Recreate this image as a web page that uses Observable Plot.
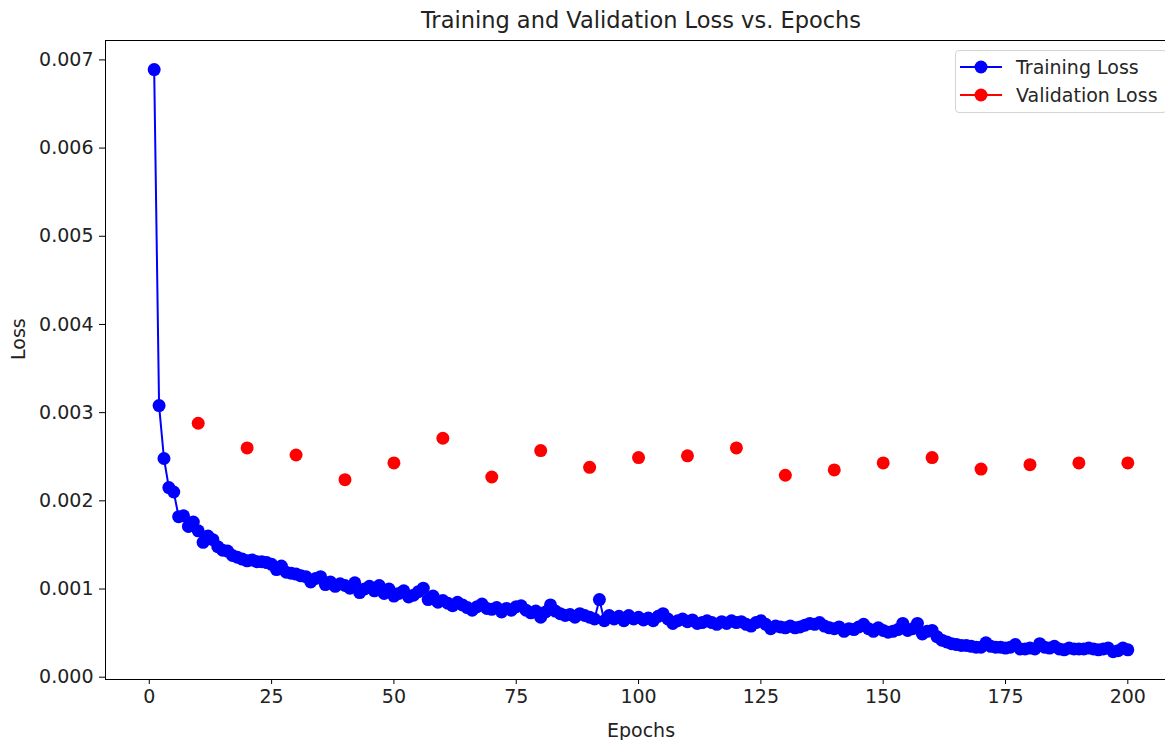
<!DOCTYPE html>
<html>
<head>
<meta charset="utf-8">
<script src="https://cdn.jsdelivr.net/npm/d3@7"></script>
<script src="https://cdn.jsdelivr.net/npm/@observablehq/plot@0.6"></script>
<style>
  html, body { margin: 0; padding: 0; background: #fff; overflow: hidden; }
  #wrap { position: relative; width: 1165px; height: 740px; overflow: hidden; font-family: "DejaVu Sans", sans-serif; }
  #legend { position: absolute; left: 955px; top: 50px; width: 212px; height: 63px; box-sizing: border-box;
    border: 1px solid #d5d5d5; border-radius: 4px; background: rgba(255,255,255,0.8); }
  .row { position: absolute; left: 4px; height: 20px; display: flex; align-items: center; font-size: 19px; color: #262626; white-space: nowrap; }
  .row svg { margin-right: 14px; }
</style>
</head>
<body>
<div id="wrap"></div>
<script>
const title = "Training and Validation Loss vs. Epochs";
const xLabel = "Epochs";
const yLabel = "Loss";
const seriesNames = ["Training Loss", "Validation Loss"];
const seriesColors = ["blue", "red"];

const xTicks = [0, 25, 50, 75, 100, 125, 150, 175, 200];
const yTicks = [0.000, 0.001, 0.002, 0.003, 0.004, 0.005, 0.006, 0.007];

const trainEpochs = d3.range(1, 201);
const trainLoss = [
  0.00689, 0.00308, 0.00248, 0.00215, 0.00210, 0.00182, 0.00183, 0.00171, 0.00176, 0.00166,
  0.00153, 0.00160, 0.00156, 0.00148, 0.00144, 0.00143, 0.00138, 0.00136, 0.00134, 0.00132,
  0.00133, 0.00131, 0.00131, 0.00130, 0.00128, 0.00122, 0.00126, 0.00119, 0.00118, 0.00117,
  0.00115, 0.00114, 0.00108, 0.00112, 0.00114, 0.00105, 0.00108, 0.00103, 0.00106, 0.00104,
  0.00101, 0.00107, 0.00096, 0.00100, 0.00103, 0.00098, 0.00104, 0.00095, 0.00100, 0.00092,
  0.00095, 0.00098, 0.00091, 0.00093, 0.00097, 0.00101, 0.00088, 0.00092, 0.00085, 0.00087,
  0.00084, 0.00081, 0.00085, 0.00082, 0.00079, 0.00076, 0.00080, 0.00083, 0.00078, 0.00077,
  0.00079, 0.00074, 0.00078, 0.00076, 0.00080, 0.00081, 0.00076, 0.00073, 0.00075, 0.00068,
  0.00074, 0.00082, 0.00075, 0.00072, 0.00070, 0.00071, 0.00068, 0.00072, 0.00070, 0.00068,
  0.00066, 0.00088, 0.00064, 0.00070, 0.00066, 0.00069, 0.00064, 0.00070, 0.00066, 0.00068,
  0.00065, 0.00067, 0.00064, 0.00069, 0.00072, 0.00066, 0.00061, 0.00064, 0.00066, 0.00063,
  0.00065, 0.00061, 0.00062, 0.00064, 0.00062, 0.00060, 0.00063, 0.00061, 0.00064, 0.00062,
  0.00063, 0.00060, 0.00058, 0.00062, 0.00064, 0.00060, 0.00055, 0.00058, 0.00057, 0.00056,
  0.00058, 0.00056, 0.00057, 0.00059, 0.00061, 0.00060, 0.00062, 0.00058, 0.00056, 0.00055,
  0.00057, 0.00052, 0.00055, 0.00054, 0.00057, 0.00060, 0.00055, 0.00052, 0.00056, 0.00053,
  0.00051, 0.00052, 0.00054, 0.00061, 0.00053, 0.00055, 0.00061, 0.00049, 0.00052, 0.00053,
  0.00046, 0.00042, 0.00040, 0.00038, 0.00037, 0.00036, 0.00036, 0.00035, 0.00034, 0.00034,
  0.00039, 0.00035, 0.00034, 0.00034, 0.00033, 0.00034, 0.00037, 0.00032, 0.00032, 0.00033,
  0.00032, 0.00038, 0.00034, 0.00033, 0.00035, 0.00032, 0.00031, 0.00033, 0.00032, 0.00032,
  0.00032, 0.00033, 0.00032, 0.00031, 0.00032, 0.00033, 0.00029, 0.00030, 0.00033, 0.00031
];

const valEpochs = [10, 20, 30, 40, 50, 60, 70, 80, 90, 100, 110, 120, 130, 140, 150, 160, 170, 180, 190, 200];
const valLoss = [
  0.00288, 0.00260, 0.00252, 0.00224, 0.00243, 0.00271, 0.00227, 0.00257, 0.00238, 0.00249,
  0.00251, 0.00260, 0.00229, 0.00235, 0.00243, 0.00249, 0.00236, 0.00241, 0.00243, 0.00243
];

const train = trainEpochs.map((e, i) => ({epoch: e, loss: trainLoss[i]}));
const val = valEpochs.map((e, i) => ({epoch: e, loss: valLoss[i]}));

const fontSize = 19;

const chart = Plot.plot({
  width: 1177,
  height: 740,
  marginLeft: 105,
  marginRight: 1,
  marginTop: 40,
  marginBottom: 61,
  style: { fontFamily: "DejaVu Sans, sans-serif", fontSize: fontSize + "px", color: "#000", background: "transparent", overflow: "visible", maxWidth: "none" },
  x: { domain: [-8.95, 209.95] },
  y: { domain: [-0.000026, 0.00722] },
  marks: [
    Plot.axisX({ ticks: xTicks, tickSize: 5, tickPadding: 5, label: null, fontSize: fontSize, stroke: "#000", fill: "#222" }),
    Plot.axisY({ ticks: yTicks, tickFormat: d3.format(".3f"), tickSize: 6, tickPadding: 6, label: null, fontSize: fontSize, stroke: "#000", fill: "#222" }),
    Plot.line(train, { x: "epoch", y: "loss", stroke: seriesColors[0], strokeWidth: 2 }),
    Plot.dot(train, { x: "epoch", y: "loss", r: 6.5, fill: seriesColors[0], stroke: null }),
    Plot.dot(val, { x: "epoch", y: "loss", r: 6.5, fill: seriesColors[1], stroke: null }),
    Plot.frame({ stroke: "#000", strokeWidth: 1 }),
    Plot.text([title], { frameAnchor: "top", lineAnchor: "middle", dy: -20, fontSize: 22.5, fill: "#222" }),
    Plot.text([xLabel], { frameAnchor: "bottom", lineAnchor: "middle", dy: 51, fontSize: fontSize, fill: "#222" }),
    Plot.text([yLabel], { frameAnchor: "left", lineAnchor: "middle", dx: -87, rotate: -90, fontSize: fontSize, fill: "#222" })
  ]
});

const wrap = document.getElementById("wrap");
chart.style.position = "absolute";
chart.style.left = "0px";
chart.style.top = "0px";
chart.style.maxWidth = "none";
wrap.appendChild(chart);

const legend = document.createElement("div");
legend.id = "legend";
seriesNames.forEach((name, i) => {
  const row = document.createElement("div");
  row.className = "row";
  row.style.top = (i === 0 ? 6 : 34) + "px";
  row.innerHTML = `<svg width="42" height="16"><line x1="0" x2="42" y1="8" y2="8" stroke="${seriesColors[i]}" stroke-width="2"/><circle cx="21" cy="8" r="6.5" fill="${seriesColors[i]}"/></svg><span>${name}</span>`;
  legend.appendChild(row);
});
wrap.appendChild(legend);
</script>
</body>
</html>
